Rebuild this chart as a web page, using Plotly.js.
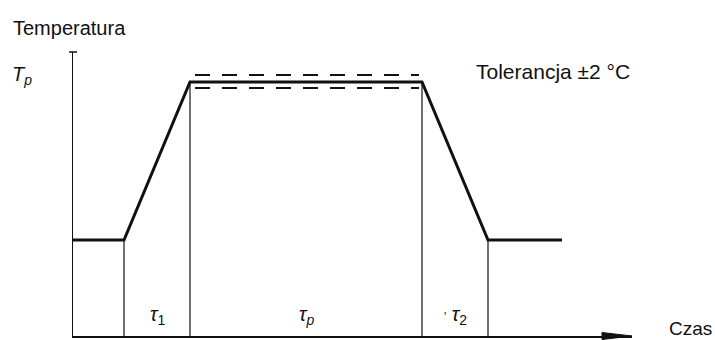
<!DOCTYPE html>
<html>
<head>
<meta charset="utf-8">
<script src="https://cdn.plot.ly/plotly-3.0.1.min.js"></script>
<style>
  html, body { margin: 0; padding: 0; background: #fff; }
  #chart { width: 715px; height: 340px; }
</style>
</head>
<body>
<div id="chart"></div>
<script>
  // temperature profile (time / temperature in drawing units)
  const profileTime = [0, 51, 117, 349, 415, 489];
  const profileTemp = [96, 96, 254, 254, 96, 96];

  // tolerance band around Tp
  const tolTime = [122, 346];
  const tolUpper = [261, 261];
  const tolLower = [248, 248];

  // phase boundaries (index into profile)
  const boundaryIdx = [1, 2, 3, 4];

  const phaseLabels = ["<i>τ</i><sub>1</sub>", "<i>τ</i><sub><i>p</i></sub>", "<span style='font-size:12px'>'</span> <i>τ</i><sub>2</sub>"];

  const xRange = [0, 559];
  const yRange = [0, 284];

  const ink = "#111111";
  const font = "Liberation Sans, Arial, sans-serif";

  // drawing units -> paper fraction (so text/decoration outside the plot area is not clipped)
  const px = (t) => (t - xRange[0]) / (xRange[1] - xRange[0]);
  const py = (v) => (v - yRange[0]) / (yRange[1] - yRange[0]);

  function boundarySegments() {
    const x = [];
    const y = [];
    boundaryIdx.forEach((i) => {
      x.push(profileTime[i], profileTime[i], null);
      y.push(yRange[0], profileTemp[i], null);
    });
    return { x, y };
  }

  const seg = boundarySegments();

  const traces = [
    {
      type: "scatter",
      mode: "lines",
      x: seg.x,
      y: seg.y,
      line: { color: ink, width: 1.2 },
      hoverinfo: "skip"
    },
    {
      type: "scatter",
      mode: "lines",
      x: tolTime,
      y: tolUpper,
      line: { color: ink, width: 2, dash: "15px,12px" },
      hoverinfo: "skip"
    },
    {
      type: "scatter",
      mode: "lines",
      x: tolTime,
      y: tolLower,
      line: { color: ink, width: 2, dash: "15px,12px" },
      hoverinfo: "skip"
    },
    {
      type: "scatter",
      mode: "lines",
      x: profileTime,
      y: profileTemp,
      line: { color: ink, width: 3 },
      hoverinfo: "skip"
    }
  ];

  const annotations = [
    { x: -62, y: 308, text: "Temperatura", xanchor: "left", size: 20 },
    { x: -63, y: 261, text: "<i>T</i><sub><i>p</i></sub>", xanchor: "left", size: 20 },
    { x: 594, y: 8, text: "Czas", xanchor: "left", size: 19 },
    { x: 401, y: 265, text: "Tolerancja ±2 °C", xanchor: "left", size: 21 }
  ];

  for (let k = 0; k < 3; k++) {
    const a = profileTime[boundaryIdx[k]];
    const b = profileTime[boundaryIdx[k + 1]];
    annotations.push({ x: (a + b) / 2, y: 21, text: phaseLabels[k], xanchor: "center", size: 20 });
  }

  annotations.forEach((a) => {
    a.x = px(a.x);
    a.y = py(a.y);
    a.xref = "paper";
    a.yref = "paper";
    a.yanchor = "middle";
    a.showarrow = false;
    a.font = { family: font, size: a.size, color: ink };
    delete a.size;
  });

  const layout = {
    width: 715,
    height: 340,
    margin: { l: 73, r: 83, t: 52, b: 4 },
    paper_bgcolor: "#ffffff",
    plot_bgcolor: "#ffffff",
    showlegend: false,
    xaxis: {
      range: xRange,
      showgrid: false,
      zeroline: false,
      showticklabels: false,
      ticks: "",
      showline: true,
      linecolor: ink,
      linewidth: 1.5
    },
    yaxis: {
      range: yRange,
      showgrid: false,
      zeroline: false,
      showticklabels: false,
      ticks: "",
      showline: true,
      linecolor: ink,
      linewidth: 1.5
    },
    shapes: [
      {
        // arrow head at the end of the time axis
        type: "path",
        xref: "paper",
        yref: "paper",
        path: `M ${px(xRange[1] - 30)},${py(yRange[0] + 3.5)} L 1,0 L ${px(xRange[1] - 30)},${py(yRange[0] - 3.5)} Z`,
        fillcolor: ink,
        line: { color: ink, width: 1 }
      },
      {
        // small cap on top of the temperature axis
        type: "line",
        xref: "paper",
        yref: "paper",
        x0: px(xRange[0] - 4),
        x1: px(xRange[0] + 4),
        y0: 1,
        y1: 1,
        line: { color: ink, width: 1.5 }
      }
    ],
    annotations
  };

  Plotly.newPlot("chart", traces, layout, { staticPlot: true, displaylogo: false });
</script>
</body>
</html>
